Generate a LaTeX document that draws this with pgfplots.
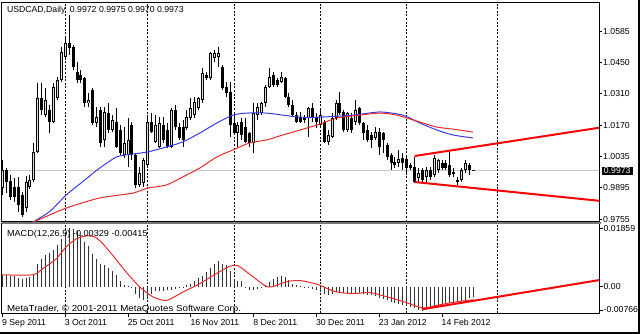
\documentclass[border=0pt]{standalone}
\usepackage{pgfplots}
\pgfplotsset{compat=1.18}
\usepackage{pgfplotstable}
\usepackage{graphicx}
\usepackage{fontspec}
\setmainfont{Liberation Sans}
\definecolor{mablue}{RGB}{60,60,225}
\definecolor{mared}{RGB}{230,45,45}
\definecolor{sepgray}{RGB}{120,120,120}
\definecolor{pricegray}{RGB}{200,200,200}

\pgfplotstableread{
i o h l c
0 0.9893 1.0017 0.9862 0.9973
1 0.9973 0.9982 0.9871 0.9920
2 0.9924 0.9951 0.9840 0.9853
3 0.9898 0.9937 0.9831 0.9853
4 0.9898 0.9942 0.9787 0.9818
5 0.9862 0.9875 0.9765 0.9774
6 0.9805 0.9946 0.9787 0.9920
7 0.9898 0.9951 0.9889 0.9929
8 0.9929 1.0092 0.9920 1.0053
9 1.0053 1.0358 1.0048 1.0292
10 1.0292 1.0358 1.0216 1.0238
11 1.0216 1.0336 1.0207 1.0283
12 1.0238 1.0260 1.0137 1.0185
13 1.0185 1.0358 1.0181 1.0340
14 1.0292 1.0384 1.0283 1.0371
15 1.0371 1.0517 1.0362 1.0495
16 1.0473 1.0561 1.0460 1.0535
17 1.0535 1.0659 1.0482 1.0513
18 1.0517 1.0526 1.0415 1.0429
19 1.0406 1.0451 1.0358 1.0371
20 1.0393 1.0415 1.0358 1.0371
21 1.0380 1.0384 1.0252 1.0269
22 1.0269 1.0314 1.0252 1.0283
23 1.0327 1.0336 1.0172 1.0181
24 1.0181 1.0252 1.0163 1.0207
25 1.0238 1.0252 1.0075 1.0092
26 1.0106 1.0252 1.0075 1.0229
27 1.0225 1.0269 1.0137 1.0150
28 1.0150 1.0216 1.0141 1.0194
29 1.0185 1.0247 1.0070 1.0075
30 1.0150 1.0172 1.0039 1.0048
31 1.0039 1.0163 1.0026 1.0092
32 1.0039 1.0203 0.9986 1.0106
33 1.0172 1.0185 1.0017 1.0039
34 1.0039 1.0048 0.9893 0.9906
35 0.9906 0.9986 0.9898 0.9960
36 0.9915 1.0026 0.9898 1.0017
37 0.9995 1.0216 0.9986 1.0185
38 1.0185 1.0225 1.0137 1.0141
39 1.0097 1.0216 1.0092 1.0172
40 1.0075 1.0207 1.0070 1.0181
41 1.0172 1.0207 1.0092 1.0106
42 1.0150 1.0181 1.0070 1.0075
43 1.0075 1.0247 1.0070 1.0238
44 1.0238 1.0260 1.0150 1.0163
45 1.0163 1.0181 1.0106 1.0114
46 1.0163 1.0194 1.0075 1.0106
47 1.0159 1.0238 1.0150 1.0207
48 1.0203 1.0292 1.0194 1.0247
49 1.0216 1.0296 1.0203 1.0274
50 1.0247 1.0296 1.0238 1.0292
51 1.0283 1.0424 1.0269 1.0402
52 1.0393 1.0406 1.0371 1.0380
53 1.0380 1.0495 1.0371 1.0491
54 1.0468 1.0504 1.0451 1.0491
55 1.0473 1.0517 1.0429 1.0491
56 1.0429 1.0437 1.0327 1.0336
57 1.0340 1.0362 1.0296 1.0314
58 1.0318 1.0362 1.0119 1.0172
59 1.0181 1.0216 1.0128 1.0137
60 1.0137 1.0185 1.0075 1.0172
61 1.0185 1.0203 1.0106 1.0128
62 1.0163 1.0203 1.0092 1.0097
63 1.0137 1.0141 1.0075 1.0092
64 1.0092 1.0269 1.0048 1.0225
65 1.0216 1.0269 1.0194 1.0252
66 1.0225 1.0274 1.0216 1.0269
67 1.0269 1.0349 1.0252 1.0340
68 1.0340 1.0424 1.0336 1.0384
69 1.0393 1.0406 1.0340 1.0349
70 1.0371 1.0380 1.0340 1.0349
71 1.0362 1.0406 1.0358 1.0384
72 1.0380 1.0384 1.0292 1.0296
73 1.0296 1.0314 1.0252 1.0260
74 1.0260 1.0283 1.0207 1.0216
75 1.0216 1.0229 1.0181 1.0185
76 1.0207 1.0229 1.0181 1.0185
77 1.0207 1.0216 1.0181 1.0194
78 1.0203 1.0252 1.0119 1.0247
79 1.0247 1.0269 1.0185 1.0203
80 1.0207 1.0225 1.0159 1.0185
81 1.0172 1.0238 1.0163 1.0216
82 1.0185 1.0194 1.0092 1.0097
83 1.0097 1.0150 1.0083 1.0128
84 1.0119 1.0225 1.0114 1.0203
85 1.0203 1.0283 1.0194 1.0269
86 1.0269 1.0318 1.0216 1.0225
87 1.0229 1.0238 1.0141 1.0150
88 1.0150 1.0230 1.0141 1.0225
89 1.0203 1.0225 1.0137 1.0150
90 1.0185 1.0283 1.0172 1.0238
91 1.0247 1.0252 1.0172 1.0181
92 1.0181 1.0185 1.0106 1.0137
93 1.0150 1.0172 1.0097 1.0106
94 1.0128 1.0141 1.0070 1.0106
95 1.0114 1.0163 1.0106 1.0141
96 1.0141 1.0159 1.0039 1.0075
97 1.0137 1.0141 1.0048 1.0106
98 1.0083 1.0092 1.0017 1.0030
99 1.0039 1.0048 0.9973 1.0004
100 1.0008 1.0030 0.9982 0.9995
101 1.0004 1.0061 0.9986 1.0021
102 1.0026 1.0048 0.9973 1.0004
103 1.0021 1.0039 0.9960 0.9982
104 0.9995 1.0004 0.9973 0.9982
105 0.9986 1.0030 0.9915 0.9920
106 0.9937 0.9982 0.9920 0.9960
107 0.9973 0.9982 0.9920 0.9929
108 0.9942 0.9986 0.9920 0.9973
109 0.9973 0.9986 0.9929 0.9942
110 0.9951 1.0039 0.9942 1.0026
111 0.9973 1.0021 0.9960 1.0017
112 1.0004 1.0017 0.9973 0.9982
113 1.0004 1.0017 0.9973 0.9982
114 0.9995 1.0053 0.9942 0.9951
115 0.9964 0.9982 0.9942 0.9960
116 0.9929 0.9942 0.9906 0.9920
117 0.9929 0.9982 0.9920 0.9973
118 0.9973 1.0017 0.9960 1.0004
119 0.9995 1.0004 0.9951 0.9973
120 0.9972 0.9975 0.9970 0.9973
}\candles

\pgfplotstableread{
i v
7 0.9735
12 0.9789
16.2 0.9862
20.4 0.9921
24.7 0.9981
29.1 1.0031
33.2 1.0044
37 1.0053
41.8 1.0075
45.9 1.0097
50.3 1.0137
54.6 1.0181
58.7 1.0216
62.2 1.0225
67.3 1.0225
71.4 1.0216
75.8 1.0207
80.9 1.0207
89.3 1.0216
96.2 1.0230
102 1.0216
106.4 1.0181
110.7 1.0150
114.8 1.0128
119.9 1.0115
}\mafast

\pgfplotstableread{
i v
7.5 0.9740
16.3 0.9805
24.7 0.9849
33.2 0.9871
37 0.9893
41.8 0.9907
45.9 0.9942
50.3 0.9982
54.6 1.0031
58.7 1.0062
63 1.0093
67.3 1.0106
71.4 1.0128
75.8 1.0150
80.1 1.0172
85.2 1.0203
91.1 1.0216
96.2 1.0225
100.5 1.0216
106.4 1.0185
110.7 1.0163
114.8 1.0154
119.9 1.0141
}\maslow

\pgfplotstableread{
i m
0 0.0037
1 0.0037
2 0.0034
3 0.0034
4 0.0028
5 0.0026
6 0.0028
7 0.0031
8 0.0041
9 0.0073
10 0.0090
11 0.0100
12 0.0109
13 0.0117
14 0.0134
15 0.0153
16 0.0174
17 0.0186
18 0.0185
19 0.0177
20 0.0164
21 0.0143
22 0.0130
23 0.0106
24 0.0090
25 0.0073
26 0.0068
27 0.0060
28 0.0049
29 0.0037
30 0.0017
31 0.0007
32 0.0002
33 -0.0001
34 -0.0022
35 -0.0036
36 -0.0043
37 -0.0033
38 -0.0022
39 -0.0013
40 -0.0013
41 -0.0013
42 -0.0012
43 -0.0012
44 -0.0006
45 -0.0004
46 -0.0002
47 0.0004
48 0.0010
49 0.0017
50 0.0028
51 0.0034
52 0.0047
53 0.0060
54 0.0073
55 0.0081
56 0.0073
57 0.0068
58 0.0049
59 0.0023
60 0.0017
61 0.0019
62 -0.0002
63 -0.0010
64 -0.0010
65 -0.0008
66 -0.0003
67 0.0007
68 0.0014
69 0.0023
70 0.0031
71 0.0034
72 0.0031
73 0.0020
74 0.0010
75 0.0004
76 0.0001
77 -0.0002
78 -0.0004
79 -0.0006
80 -0.0012
81 -0.0017
82 -0.0022
83 -0.0026
84 -0.0022
85 -0.0017
86 -0.0017
87 -0.0019
88 -0.0021
89 -0.0020
90 -0.0019
91 -0.0020
92 -0.0022
93 -0.0025
94 -0.0028
95 -0.0030
96 -0.0036
97 -0.0040
98 -0.0044
99 -0.0049
100 -0.0053
101 -0.0056
102 -0.0060
103 -0.0063
104 -0.0066
105 -0.0069
106 -0.0073
107 -0.0077
108 -0.0073
109 -0.0068
110 -0.0064
111 -0.0061
112 -0.0058
113 -0.0056
114 -0.0053
115 -0.0051
116 -0.0049
117 -0.0046
118 -0.0041
119 -0.0037
120 -0.0033
}\macd

\pgfplotstableread{
i s
-0.8 0.0038
7.7 0.0038
10.3 0.0058
13.7 0.0089
16.2 0.0127
18.8 0.0153
21.3 0.0162
23.5 0.0159
25.6 0.0137
28.1 0.0100
31.5 0.0047
35 -0.0001
38.4 -0.0033
41.8 -0.0044
46 -0.0017
50.3 0.0010
54.5 0.0042
57.9 0.0065
60 0.0067
63.4 0.0036
66.8 0.0004
68.4 -0.0001
72.7 0.0017
76.1 0.0019
80.4 0.0007
84.6 -0.0015
88.9 -0.0022
93.8 -0.0019
98.1 -0.0033
102.5 -0.0049
107.1 -0.0068
110.9 -0.0059
115.3 -0.0049
120 -0.00415
}\signal

\begin{document}
\begin{tikzpicture}
\fill[white] (0pt,0pt) rectangle (640pt,334pt);
\path[use as bounding box] (0pt,0pt) rectangle (640pt,334pt);
\pgfplotsset{
  every axis/.append style={font=\fontsize{8.7}{10}\selectfont},
  mtaxis/.style={
    scale only axis, width=597.5pt,
    xmin=-0.25, xmax=152, clip=true,
    axis line style={black, line width=1pt},
    tick align=outside, major tick length=3pt,
    tick style={black, line width=0.8pt},
    ytick pos=right, yticklabel pos=right,
    yticklabel style={anchor=west, inner sep=1pt},
    scaled y ticks=false,
  },
  sep/.style={black, line width=0.8pt, dash pattern=on 2pt off 1.6pt, forget plot},
}
% ---------------- price panel
\begin{axis}[mtaxis, at={(1.5pt,331.5pt)}, anchor=north west, height=219pt,
  ymin=0.97453, ymax=1.07143, xtick=\empty,
  ytick={0.9755,0.9895,1.0035,1.0170,1.0310,1.0450,1.0585},
  yticklabels={0.9755,0.9895,1.0035,1.0170,1.0310,1.0450,1.0585}]
\addplot[pricegray, line width=1pt, forget plot] coordinates {(-0.25,0.9973) (152,0.9973)};
\addplot[sep] coordinates {(16,0.97453) (16,1.07143)};
\addplot[sep] coordinates {(37,0.97453) (37,1.07143)};
\addplot[sep] coordinates {(59.2,0.97453) (59.2,1.07143)};
\addplot[sep] coordinates {(81,0.97453) (81,1.07143)};
\addplot[sep] coordinates {(103,0.97453) (103,1.07143)};
\addplot[sep] coordinates {(126,0.97453) (126,1.07143)};
% wicks
\addplot[draw=none, mark=none, forget plot,
  error bars/.cd, y dir=both, y explicit, error mark=none,
  error bar style={draw=black, line width=1pt}]
  table[x=i, y expr={(\thisrow{h}+\thisrow{l})/2}, y error expr={(\thisrow{h}-\thisrow{l})/2}] {\candles};
% bodies
\addplot[draw=none, mark=none, forget plot,
  error bars/.cd, y dir=both, y explicit, error mark=none,
  error bar style={draw=black, line width=3pt}]
  table[x=i, y expr={(\thisrow{o}+\thisrow{c})/2}, y error expr={abs(\thisrow{c}-\thisrow{o})/2}] {\candles};
% hollow bull bodies
\addplot[draw=none, mark=none, forget plot,
  error bars/.cd, y dir=both, y explicit, error mark=none,
  error bar style={draw=white!75!gray, line width=1pt}]
  table[x=i, y expr={(\thisrow{o}+\thisrow{c})/2}, y error expr={max(\thisrow{c}-\thisrow{o}-0.0009,0)/2}] {\candles};
\addplot[mablue, line width=1pt, smooth, tension=0.4, mark=none] table[x=i, y=v] {\mafast};
\addplot[mared, line width=1pt, smooth, tension=0.4, mark=none] table[x=i, y=v] {\maslow};
\addplot[red, line width=2pt, mark=none] coordinates {(105,1.0035) (152,1.0160)};
\addplot[red, line width=2pt, mark=none] coordinates {(105,0.9920) (152,0.9837)};
\end{axis}
% ---------------- MACD panel
\begin{axis}[mtaxis, at={(1.5pt,110pt)}, anchor=north west, height=89.3pt,
  ymin=-0.0085, ymax=0.02003,
  xtick pos=bottom,
  xtick={0,16,32,48,64,80,96,112},
  xticklabels={9 Sep 2011,3 Oct 2011,25 Oct 2011,16 Nov 2011,8 Dec 2011,30 Dec 2011,23 Jan 2012,14 Feb 2012},
  xticklabel style={anchor=north west, inner sep=0pt, xshift=-0.5pt, yshift=-2pt},
  major tick length=3.5pt,
  ytick={-0.00766,0,0.01859},
  yticklabels={\raisebox{2pt}{-0.00766},0.00,\raisebox{-2pt}{0.01859}}]
\addplot[sep] coordinates {(16,-0.0085) (16,0.02003)};
\addplot[sep] coordinates {(37,-0.0085) (37,0.02003)};
\addplot[sep] coordinates {(59.2,-0.0085) (59.2,0.02003)};
\addplot[sep] coordinates {(81,-0.0085) (81,0.02003)};
\addplot[sep] coordinates {(103,-0.0085) (103,0.02003)};
\addplot[sep] coordinates {(126,-0.0085) (126,0.02003)};
\addplot[ycomb, black!80, line width=1pt, mark=none] table[x=i, y=m] {\macd};
\addplot[mared, line width=1pt, smooth, tension=0.4, mark=none] table[x=i, y=s] {\signal};
\addplot[red, line width=2pt, mark=none] coordinates {(107,-0.0072) (152,0.0021)};
\end{axis}
% separator between panels
\fill[sepgray] (1.5pt,110.2pt) rectangle (601pt,112.3pt);
% texts
\begin{scope}[font=\fontsize{8.7}{10}\selectfont]
\node[anchor=west, inner sep=0pt] at (6.8pt,323.3pt) {USDCAD,Daily\hspace{4.5pt}0.9972 0.9975 0.9970 0.9973};
\node[anchor=west, inner sep=0pt] at (6.8pt,99.7pt) {\scalebox{1.05}[1]{MACD(12,26,9) -0.00329 -0.00415}};
\node[anchor=west, inner sep=0pt] at (6.8pt,24.7pt) {\scalebox{1.12}[1]{MetaTrader, © 2001-2011 MetaQuotes Software Corp.}};
\node[anchor=west, fill=black, text=white, inner xsep=2pt, inner ysep=1.2pt] at (601.7pt,163.2pt) {0.9973};
\end{scope}
% window frame
\fill[black] (0pt,0pt) rectangle (640pt,2.4pt);
\fill[black] (637.6pt,0pt) rectangle (640pt,334pt);
\end{tikzpicture}
\end{document}
